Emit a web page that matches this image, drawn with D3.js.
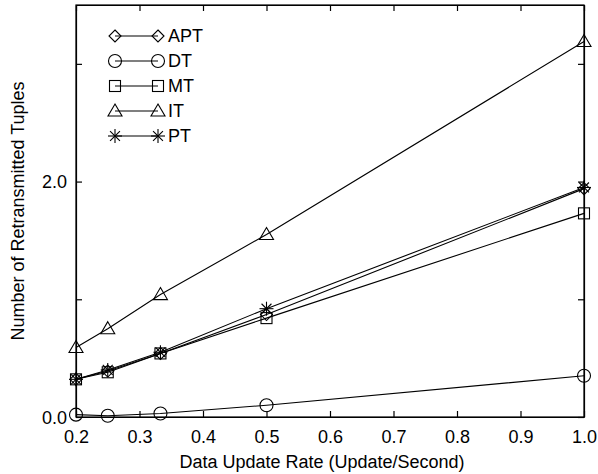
<!DOCTYPE html>
<html>
<head>
<meta charset="utf-8">
<script src="https://cdn.jsdelivr.net/npm/d3@7"></script>
<style>
  html, body { margin: 0; padding: 0; background: #fff; }
  svg { display: block; font-family: "Liberation Sans", Arial, sans-serif; }
</style>
</head>
<body>
<div id="chart"></div>
<script>
  // data
  var rates = [0.2, 0.25, 0.333, 0.5, 1.0];
  var seriesNames = ['APT', 'DT', 'MT', 'IT', 'PT'];
  var aptValues = [0.32, 0.39, 0.54, 0.87, 1.94];
  var dtValues = [0.02, 0.01, 0.03, 0.10, 0.35];
  var mtValues = [0.32, 0.38, 0.54, 0.84, 1.73];
  var itValues = [0.59, 0.75, 1.04, 1.55, 3.19];
  var ptValues = [0.32, 0.40, 0.55, 0.92, 1.95];
  var xTicks = [0.2, 0.3, 0.4, 0.5, 0.6, 0.7, 0.8, 0.9, 1.0];
  var yTicks = [0, 1, 2, 3];
  var yTickLabels = ['0.0', '', '2.0', ''];

  var W = 598, H = 474;
  var margin = { top: 5, right: 14, bottom: 57, left: 76 };
  var iw = W - margin.left - margin.right;
  var ih = H - margin.top - margin.bottom;
  var FS = 18;

  var x = d3.scaleLinear().domain([0.2, 1.0]).range([0, iw]);
  var y = d3.scaleLinear().domain([0, 3.5]).range([ih, 0]);

  var svg = d3.select('#chart').append('svg').attr('width', W).attr('height', H);
  var g = svg.append('g').attr('transform', 'translate(' + margin.left + ',' + margin.top + ')');

  // frame
  g.append('rect').attr('width', iw).attr('height', ih)
    .attr('fill', 'none').attr('stroke', '#000').attr('stroke-width', 1.2);

  var fmtY = function (d, i) { return yTickLabels[i]; };

  var xAxis = g.append('g').attr('transform', 'translate(0,' + ih + ')')
    .call(d3.axisBottom(x).tickValues(xTicks).tickFormat(d3.format('.1f')).tickSizeInner(-6).tickSizeOuter(0).tickPadding(13));
  var xTop = g.append('g')
    .call(d3.axisTop(x).tickValues(xTicks).tickFormat('').tickSizeInner(-6).tickSizeOuter(0));
  var yAxis = g.append('g')
    .call(d3.axisLeft(y).tickValues(yTicks).tickFormat(fmtY).tickSizeInner(-6).tickSizeOuter(0).tickPadding(9));
  var yRight = g.append('g').attr('transform', 'translate(' + iw + ',0)')
    .call(d3.axisRight(y).tickValues(yTicks).tickFormat('').tickSizeInner(-6).tickSizeOuter(0));

  [xAxis, xTop, yAxis, yRight].forEach(function (a) {
    a.select('.domain').attr('stroke', '#000').attr('stroke-width', 1.2);
    a.selectAll('.tick line').attr('stroke', '#000').attr('stroke-width', 1.2);
    a.selectAll('.tick text').attr('font-size', FS).attr('fill', '#000')
      .attr('font-family', '"Liberation Sans", Arial, sans-serif');
  });
  xAxis.selectAll('.tick text').attr('dy', '0.71em');
  yAxis.selectAll('.tick text').attr('dy', '0.35em');

  // axis titles
  svg.append('text').attr('x', margin.left + iw / 2 - 8).attr('y', 468)
    .attr('text-anchor', 'middle').attr('font-size', FS).text('Data Update Rate (Update/Second)');
  svg.append('text').attr('transform', 'translate(24,' + (margin.top + ih / 2) + ') rotate(-90)')
    .attr('text-anchor', 'middle').attr('font-size', FS).text('Number of Retransmitted Tuples');

  // marker shapes
  function drawMarker(sel, name, cx, cy) {
    var m = sel.append('g').attr('transform', 'translate(' + cx + ',' + cy + ')')
      .attr('fill', 'none').attr('stroke', '#000').attr('stroke-width', 1.1);
    if (name === 'APT') {
      m.append('path').attr('d', 'M0,-6L6,0L0,6L-6,0Z');
    } else if (name === 'DT') {
      m.append('circle').attr('r', 6.5);
    } else if (name === 'MT') {
      m.append('rect').attr('x', -5.5).attr('y', -5.5).attr('width', 11).attr('height', 11);
    } else if (name === 'IT') {
      m.append('path').attr('d', 'M0,-7L7,5L-7,5Z');
    } else {
      for (var k = 0; k < 4; k++) {
        var a = Math.PI / 4 * k;
        m.append('line')
          .attr('x1', 7 * Math.cos(a)).attr('y1', 7 * Math.sin(a))
          .attr('x2', -7 * Math.cos(a)).attr('y2', -7 * Math.sin(a));
      }
    }
  }

  var allValues = [aptValues, dtValues, mtValues, itValues, ptValues];
  var line = d3.line().x(function (d, i) { return x(rates[i]); }).y(function (d) { return y(d); });

  allValues.forEach(function (vals, s) {
    g.append('path').datum(vals).attr('d', line)
      .attr('fill', 'none').attr('stroke', '#000').attr('stroke-width', 1.1);
  });
  allValues.forEach(function (vals, s) {
    vals.forEach(function (v, i) { drawMarker(g, seriesNames[s], x(rates[i]), y(v)); });
  });

  // legend
  var legend = svg.append('g').attr('transform', 'translate(115,36)');
  seriesNames.forEach(function (name, i) {
    var row = legend.append('g').attr('transform', 'translate(0,' + (i * 25) + ')');
    row.append('line').attr('x1', 0).attr('x2', 43).attr('stroke', '#000').attr('stroke-width', 1.1);
    drawMarker(row, name, 0, 0);
    drawMarker(row, name, 43, 0);
    row.append('text').attr('x', 53).attr('dy', '0.36em').attr('font-size', FS).text(name);
  });
</script>
</body>
</html>
